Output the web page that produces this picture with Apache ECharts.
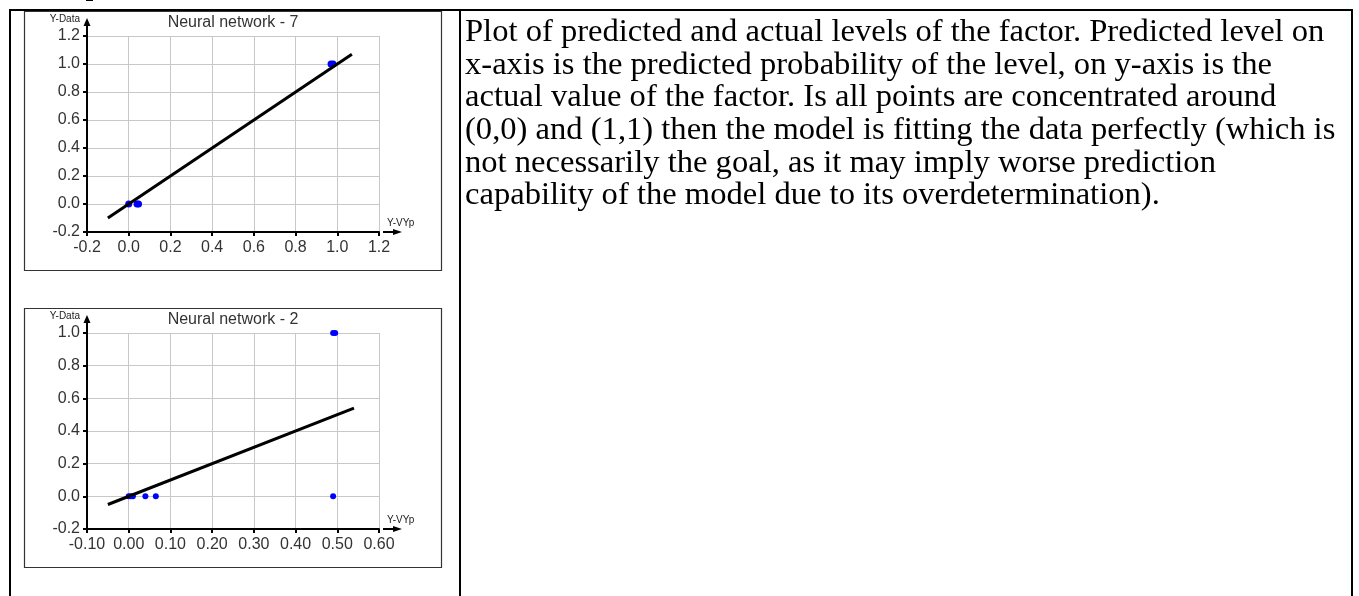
<!DOCTYPE html>
<html>
<head>
<meta charset="utf-8">
<script src="https://cdn.jsdelivr.net/npm/echarts@6/dist/echarts.min.js"></script>
<style>
  html, body { margin: 0; padding: 0; background: #fff; }
  #chart { width: 1359px; height: 596px; }
</style>
</head>
<body>
<div id="chart"></div>
<script>
  // data
  var nn7Title = 'Neural network - 7';
  var nn7Points = [[0.0, 0.0], [0.04, 0.0], [0.047, 0.0], [0.97, 1.0], [0.98, 1.0]];
  var nn7Fit = [[-0.1, -0.1], [1.07, 1.07]];

  var nn2Title = 'Neural network - 2';
  var nn2Points = [[0.0, 0.0], [0.005, 0.0], [0.01, 0.0], [0.04, 0.0], [0.065, 0.0], [0.49, 0.0], [0.49, 1.0], [0.495, 1.0]];
  var nn2Fit = [[-0.05, -0.05], [0.54, 0.54]];

  var xAxisName = 'Y-VYp';
  var yAxisName = 'Y-Data';

  var noteLines = [
    'Plot of predicted and actual levels of the factor. Predicted level on',
    'x-axis is the predicted probability of the level, on y-axis is the',
    'actual value of the factor. Is all points are concentrated around',
    '(0,0) and (1,1) then the model is fitting the data perfectly (which is',
    'not necessarily the goal, as it may imply worse prediction',
    'capability of the model due to its overdetermination).'
  ];

  // layout
  var gridLeft = 87, gridW = 292, gridH = 196;
  var grids = [{top: 36}, {top: 333}];
  var boxes = [{y: 11, h: 259}, {y: 308, h: 259}];

  var myChart = echarts.init(document.getElementById('chart'));

  function xAxisOf(i, min, max, interval, digits) {
    return {
      gridIndex: i,
      type: 'value',
      min: min, max: max, interval: interval,
      name: xAxisName,
      nameLocation: 'end',
      nameGap: 8,
      nameTextStyle: {fontFamily: 'Liberation Sans', fontSize: 10, color: '#222', verticalAlign: 'bottom', padding: [0, 0, 4, 0]},
      axisLine: {onZero: false, lineStyle: {color: '#000', width: 2}},
      axisTick: {length: 4, lineStyle: {color: '#000', width: 2}},
      axisLabel: {
        margin: 8, fontFamily: 'Liberation Sans', fontSize: 16, color: '#333',
        formatter: function (v) { return v.toFixed(digits); }
      },
      splitLine: {show: true, lineStyle: {color: '#c8c8c8', width: 1}}
    };
  }

  function yAxisOf(i, min, max, interval) {
    return {
      gridIndex: i,
      type: 'value',
      min: min, max: max, interval: interval,
      name: yAxisName,
      nameLocation: 'end',
      nameGap: 12,
      nameTextStyle: {fontFamily: 'Liberation Sans', fontSize: 10, color: '#222', align: 'right', padding: [0, 7, 0, 0]},
      axisLine: {onZero: false, lineStyle: {color: '#000', width: 2}},
      axisTick: {length: 4, lineStyle: {color: '#000', width: 2}},
      axisLabel: {
        margin: 7, fontFamily: 'Liberation Sans', fontSize: 16, color: '#333',
        formatter: function (v) { return v.toFixed(1); }
      },
      splitLine: {show: true, lineStyle: {color: '#c8c8c8', width: 1}}
    };
  }

  var graphic = [];
  // table borders
  graphic.push({type: 'line', shape: {x1: 9, y1: 10, x2: 1353, y2: 10}, style: {stroke: '#000', lineWidth: 2}});
  graphic.push({type: 'line', shape: {x1: 10, y1: 9, x2: 10, y2: 600}, style: {stroke: '#000', lineWidth: 2}});
  graphic.push({type: 'line', shape: {x1: 460, y1: 9, x2: 460, y2: 600}, style: {stroke: '#000', lineWidth: 2}});
  graphic.push({type: 'line', shape: {x1: 1352, y1: 9, x2: 1352, y2: 600}, style: {stroke: '#000', lineWidth: 2}});
  // bit of the line above the table
  graphic.push({type: 'line', shape: {x1: 86, y1: 0.5, x2: 93, y2: 0.5}, style: {stroke: '#000', lineWidth: 1}});

  grids.forEach(function (g, i) {
    var b = boxes[i];
    graphic.push({type: 'rect', shape: {x: 24.5, y: b.y + 0.5, width: 417, height: b.h}, style: {fill: null, stroke: '#333', lineWidth: 1.2}});
    var bottom = g.top + gridH;
    // y-axis arrow
    graphic.push({type: 'line', shape: {x1: gridLeft, y1: g.top, x2: gridLeft, y2: g.top - 13}, style: {stroke: '#000', lineWidth: 2}, z: 10});
    graphic.push({type: 'polygon', shape: {points: [[gridLeft - 3.5, g.top - 10], [gridLeft + 3.5, g.top - 10], [gridLeft, g.top - 18]]}, style: {fill: '#000'}, z: 10});
    // x-axis arrow
    var xr = gridLeft + gridW;
    graphic.push({type: 'line', shape: {x1: xr + 4, y1: bottom, x2: xr + 16, y2: bottom}, style: {stroke: '#000', lineWidth: 2}, z: 10});
    graphic.push({type: 'polygon', shape: {points: [[xr + 14, bottom - 3], [xr + 14, bottom + 3], [xr + 23, bottom]]}, style: {fill: '#000'}, z: 10});
  });

  graphic.push({
    type: 'text',
    x: 465, y: 16,
    style: {
      text: noteLines.join('\n'),
      font: '32.6px "Liberation Serif"',
      lineHeight: 32.7,
      fill: '#000'
    }
  });

  var titleStyle = {fontFamily: 'Liberation Sans', fontSize: 16, fontWeight: 'normal', color: '#333'};

  var option = {
    animation: false,
    title: [
      {text: nn7Title, left: gridLeft + gridW / 2, top: 15, padding: 0, textAlign: 'center', textStyle: titleStyle},
      {text: nn2Title, left: gridLeft + gridW / 2, top: 312, padding: 0, textAlign: 'center', textStyle: titleStyle}
    ],
    grid: grids.map(function (g) {
      return {left: gridLeft, top: g.top, width: gridW, height: gridH, containLabel: false};
    }),
    xAxis: [xAxisOf(0, -0.2, 1.2, 0.2, 1), xAxisOf(1, -0.1, 0.6, 0.1, 2)],
    yAxis: [yAxisOf(0, -0.2, 1.2, 0.2), yAxisOf(1, -0.2, 1.0, 0.2)],
    series: [
      {type: 'scatter', xAxisIndex: 0, yAxisIndex: 0, data: nn7Points, symbolSize: 7, itemStyle: {color: '#0000ff', opacity: 1}, z: 2},
      {type: 'line', xAxisIndex: 0, yAxisIndex: 0, data: nn7Fit, symbol: 'none', lineStyle: {color: '#000', width: 3}, z: 3},
      {type: 'scatter', xAxisIndex: 1, yAxisIndex: 1, data: nn2Points, symbolSize: 6, itemStyle: {color: '#0000ff', opacity: 1}, z: 2},
      {type: 'line', xAxisIndex: 1, yAxisIndex: 1, data: nn2Fit, symbol: 'none', lineStyle: {color: '#000', width: 3}, z: 3}
    ],
    graphic: graphic
  };

  myChart.setOption(option);
</script>
</body>
</html>
